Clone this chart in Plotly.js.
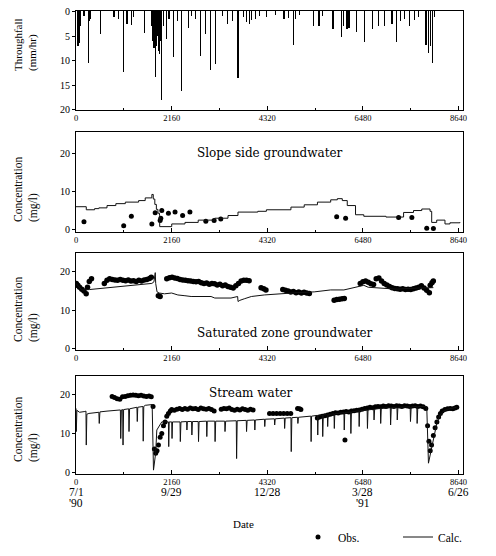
<!DOCTYPE html>
<html>
<head>
<meta charset="utf-8">
<script src="https://cdn.plot.ly/plotly-3.0.1.min.js"></script>
<style>html,body{margin:0;padding:0;background:#fff;}#chart{width:496px;height:556px;}</style>
</head>
<body>
<div id="chart"></div>
<script>
// ---------- Data (hours since 7/1/'90) ----------
var xTickVals = [0, 2160, 4320, 6480, 8640];
var xTickText = ["0", "2160", "4320", "6480", "8640"];
var dateLine1 = ["7/1", "9/29", "12/28", "3/28", "6/26"];
var dateLine2 = ["'90", "", "", "'91", ""];

// Throughfall (mm/hr)
var tfTime = [45,70,100,180,277,290,300,320,554,860,965,1077,1150,1250,1300,1548,1700,1740,1760,1788,1805,1820,1850,1865,1880,1900,1937,1980,2049,2100,2199,2290,2386,2536,2600,2700,2820,2932,3037,3157,3300,3418,3540,3658,3780,3850,3920,3960,4050,4150,4300,4500,4700,4800,4914,4960,5050,5363,5490,5560,5805,6000,6040,6120,6164,6328,6523,6703,6837,6964,7136,7233,7330,7420,7540,7650,7730,7906,7960,8011,8056,8100];
var tfDepth = [7.0,6.5,3.0,1.0,10.6,2.5,2.0,1.5,4.5,1.2,1.5,12.3,2.6,2.8,1.2,4.4,3.0,6.0,7.5,13.3,6.5,7.0,5.0,8.0,8.6,6.0,18.0,3.0,5.6,1.5,9.2,2.0,16.2,3.4,1.0,1.5,9.0,4.5,12.0,10.7,1.0,2.5,2.0,13.5,1.2,2.2,2.5,1.8,1.5,1.0,1.2,0.8,1.5,1.4,6.9,1.5,0.8,3.0,3.0,1.0,3.5,5.3,3.0,3.5,3.4,4.2,6.3,3.6,3.0,3.0,2.6,6.3,2.0,1.5,3.0,1.7,1.2,6.9,8.5,7.0,10.6,1.2];

// Slope side groundwater (mg/l)
var slopeObsT = [180,1077,1250,1713,1788,1900,1915,1937,2087,2237,2408,2573,2932,3119,3269,5887,6089,7286,7585,7921,8072];
var slopeObsC = [2.1,1.0,3.5,1.5,4.4,2.4,3.0,5.0,4.3,4.6,3.7,4.6,2.2,2.4,2.8,3.4,3.0,3.2,3.2,0.4,0.3];
var slopeCalcT = [0,232,420,516,700,900,1114,1414,1563,1713,1745,1780,1815,1850,1885,1890,2162,2461,2760,3134,3433,3658,4106,4300,4854,5154,5453,5752,5902,6014,6126,6313,6500,7000,7398,7622,7809,7996,8033,8146,8333,8445,8669];
var slopeCalcC = [6.0,5.2,5.5,5.7,6.3,6.8,7.2,7.6,8.3,9.2,8.0,6.6,5.3,4.3,3.7,0.8,1.5,1.9,2.5,3.0,3.7,4.6,4.8,5.2,5.9,6.5,7.2,7.8,8.1,7.6,6.3,3.9,3.5,3.3,4.5,5.0,5.4,4.8,1.9,2.5,1.5,1.8,2.0,2.0];

// Saturated zone groundwater (mg/l)
var satObsT = [7,40,80,130,180,230,260,300,350,640,700,760,820,880,940,1000,1060,1120,1180,1240,1300,1360,1420,1480,1540,1600,1660,1700,1860,1900,2050,2110,2170,2230,2290,2350,2410,2470,2530,2590,2650,2710,2770,2830,2890,2950,3010,3070,3130,3190,3250,3310,3370,3430,3490,3550,3610,3670,3730,3790,3850,3910,4180,4240,4290,4670,4730,4790,4850,4910,4970,5030,5090,5150,5210,5270,5830,5890,5950,6010,6060,6420,6480,6540,6600,6660,6720,6780,6840,6900,6960,7020,7080,7140,7200,7260,7320,7380,7440,7500,7560,7620,7680,7740,7800,7860,7920,7980,8000,8040,8070];
var satObsC = [17.0,16.5,16.0,15.5,15.0,14.3,16.0,17.5,18.2,17.0,17.8,18.2,18.0,17.9,17.8,18.0,17.8,17.7,17.9,17.6,17.7,17.5,17.8,17.6,17.9,18.0,18.3,18.6,13.8,13.6,18.2,18.5,18.6,18.4,18.3,18.0,17.9,17.8,17.7,17.6,17.5,17.4,17.5,17.2,17.0,17.1,16.8,17.0,16.9,16.6,16.8,16.4,16.6,16.2,16.0,15.8,16.4,17.0,17.6,17.8,17.8,17.7,15.9,15.6,15.3,15.4,15.2,15.0,14.8,14.9,14.6,14.8,14.5,14.7,14.5,14.4,12.6,12.8,12.9,13.0,13.1,17.0,17.4,17.6,17.3,16.9,16.7,18.2,18.4,17.6,17.0,16.6,16.2,15.9,15.7,15.6,15.5,15.6,15.4,15.5,15.4,15.6,15.8,16.0,16.4,15.8,15.2,14.6,16.5,17.2,17.6];
var satCalcT = [0,60,130,300,600,900,1200,1500,1713,1760,1790,1800,1830,1880,2000,2160,2300,2460,2600,3050,3134,3500,3600,3650,3660,3700,3800,3960,4250,4630,5000,5380,5750,6050,6430,6500,6600,6800,7000,7250,7500,7800,8071];
var satCalcC = [17.0,16.3,15.3,15.4,15.7,16.0,16.3,16.6,17.0,17.4,19.8,17.0,14.8,14.5,14.3,14.5,14.0,13.8,13.6,13.6,13.2,13.2,13.6,13.6,12.3,12.6,13.0,13.6,14.0,14.4,14.6,14.8,15.3,15.3,16.2,16.5,16.0,15.8,15.6,15.5,15.7,15.8,15.9];

// Stream water (mg/l)
var streamObsT = [815,870,930,990,1050,1110,1170,1230,1290,1350,1410,1470,1530,1590,1650,1700,1740,1770,1800,1830,1862,1900,1937,1975,2012,2050,2087,2130,2162,2220,2280,2340,2400,2460,2520,2580,2640,2700,2760,2820,2880,2940,3000,3060,3120,3280,3340,3400,3460,3520,3580,3640,3700,3760,3820,3880,3940,4000,4370,4450,4530,4610,4690,4770,4850,5004,5050,5079,5450,5500,5560,5620,5680,5740,5800,5860,5920,5980,6040,6074,6100,6160,6220,6280,6340,6400,6460,6520,6580,6640,6700,6760,6820,6880,6940,7000,7060,7120,7180,7240,7300,7360,7420,7480,7540,7600,7660,7720,7780,7840,7900,7940,7970,8000,8030,8070,8110,8150,8190,8230,8270,8330,8390,8450,8510,8560,8600];
var streamObsC = [19.6,19.3,19.0,18.9,19.5,19.6,19.8,19.9,20.0,19.9,19.8,19.9,19.7,19.6,19.7,19.5,17.0,6.0,4.9,5.5,7.0,9.0,10.0,12.0,13.0,14.5,15.2,15.8,16.2,16.0,16.3,16.5,16.2,16.5,16.3,16.6,16.4,16.5,16.2,16.6,16.4,16.3,16.5,16.2,15.8,16.3,16.5,16.4,16.6,16.2,16.0,16.3,16.1,16.4,16.2,16.0,16.3,16.1,15.2,15.2,15.2,15.2,15.2,15.2,15.2,16.5,16.4,16.2,14.0,14.3,14.5,14.6,14.8,15.0,15.2,15.4,15.3,15.5,15.6,8.3,15.7,15.6,15.8,15.9,16.0,16.1,16.3,16.5,16.6,16.8,16.7,16.9,17.0,16.9,17.1,17.0,17.2,17.1,17.0,17.2,17.1,17.0,17.2,17.1,17.0,17.1,17.2,17.0,17.1,16.9,16.5,12.0,8.0,5.5,7.0,9.5,11.5,13.0,14.3,15.2,15.8,16.2,16.4,16.5,16.4,16.6,16.8];
var streamCalcT = [0,7,20,80,200,225,232,245,292,400,516,525,540,700,890,1002,1010,1025,1055,1062,1075,1189,1197,1210,1376,1384,1395,1511,1518,1530,1563,1675,1720,1750,1800,1825,1937,2087,2094,2105,2162,2169,2180,2349,2356,2370,2498,2505,2515,2610,2617,2630,2760,2767,2780,2947,2954,2965,3134,3141,3155,3358,3365,3380,3620,3627,3640,3845,3852,3865,4032,4039,4050,4256,4263,4275,4480,4487,4500,4705,4712,4725,4854,4861,4875,5004,5011,5025,5303,5310,5320,5453,5460,5470,5565,5572,5585,5677,5684,5695,5827,5834,5845,6051,6058,6070,6201,6208,6220,6388,6395,6405,6575,6582,6595,6724,6731,6745,6874,6881,6895,7098,7105,7120,7248,7255,7270,7547,7554,7570,7697,7704,7720,7921,7960,8000,8071,8146,8220,8295,8400,8594];
var streamCalcC = [16.5,10.5,16.0,15.5,15.7,15.8,7.0,15.0,15.2,15.4,15.5,12.6,15.6,15.8,16.0,16.1,8.7,16.1,16.2,7.0,16.2,16.4,10.5,16.4,16.8,13.1,16.8,17.0,8.0,17.0,17.3,17.5,17.5,0.5,5.0,10.9,13.0,13.0,6.6,13.0,13.0,8.7,13.0,13.0,7.9,13.0,13.1,10.9,13.1,13.1,9.6,13.1,13.1,7.9,13.1,13.2,9.2,13.2,13.2,7.9,13.2,13.2,10.5,13.2,13.3,3.5,13.3,13.4,10.5,13.4,13.5,10.9,13.5,13.7,11.8,13.7,13.8,12.2,13.8,14.0,11.3,14.0,14.1,5.3,14.1,14.2,12.6,14.2,14.5,7.9,14.5,14.7,9.6,14.7,14.8,9.2,14.8,14.9,11.8,14.9,15.1,11.3,15.1,15.4,10.9,15.4,15.6,10.0,15.6,15.9,11.8,15.9,16.1,11.3,16.1,16.3,13.5,16.3,16.5,12.6,16.5,16.7,12.2,16.7,16.8,13.5,16.8,16.9,13.1,16.9,17.0,12.6,17.0,17.0,2.3,4.5,9.0,12.5,14.8,15.8,16.3,16.8];

// ---------- Build ----------
var FONT = "Liberation Serif, Times New Roman, serif";
var WFONT = "DejaVu Serif, serif";
var W = 496, H = 556;
var xDom = [76 / W, 463 / W];
function pd(top, bottom) { return [1 - bottom / H, 1 - top / H]; }
function py(p) { return 1 - p / H; }

var traces = [
  {type: 'bar', x: tfTime, y: tfDepth, width: 28, marker: {color: '#000', line: {width: 0}}, xaxis: 'x', yaxis: 'y', showlegend: false, hoverinfo: 'skip'},
  {type: 'scatter', mode: 'markers', x: slopeObsT, y: slopeObsC, marker: {color: '#000', size: 5}, xaxis: 'x2', yaxis: 'y2', name: 'Obs.', showlegend: true},
  {type: 'scatter', mode: 'lines', x: slopeCalcT, y: slopeCalcC, line: {color: '#111', width: 1, shape: 'hv'}, xaxis: 'x2', yaxis: 'y2', name: 'Calc.', showlegend: true},
  {type: 'scatter', mode: 'markers', x: satObsT, y: satObsC, marker: {color: '#000', size: 5.5}, xaxis: 'x3', yaxis: 'y3', showlegend: false},
  {type: 'scatter', mode: 'lines', x: satCalcT, y: satCalcC, line: {color: '#111', width: 1}, xaxis: 'x3', yaxis: 'y3', showlegend: false},
  {type: 'scatter', mode: 'markers', x: streamObsT, y: streamObsC, marker: {color: '#000', size: 5}, xaxis: 'x4', yaxis: 'y4', showlegend: false},
  {type: 'scatter', mode: 'lines', x: streamCalcT, y: streamCalcC, line: {color: '#111', width: 1}, xaxis: 'x4', yaxis: 'y4', showlegend: false}
];

function xa(anchor) {
  return {domain: xDom, anchor: anchor, range: [0, 8740], tickvals: xTickVals, ticktext: xTickText,
    ticks: 'inside', ticklen: 4, tickcolor: '#000', showline: true, linecolor: '#000', linewidth: 1, mirror: true,
    showgrid: false, zeroline: false, tickfont: {family: FONT, size: 8.5, color: '#000'},
    minor: {tickvals: [1080, 3240, 5400, 7560], ticks: 'inside', ticklen: 2, tickcolor: '#000'}};
}
function ya(anchor, dom, range, vals) {
  return {domain: dom, anchor: anchor, range: range, tickvals: vals, ticks: 'outside', ticklen: 3, tickcolor: '#000',
    showline: true, linecolor: '#000', linewidth: 1, mirror: true, showgrid: false, zeroline: false,
    tickfont: {family: FONT, size: 10, color: '#000'}};
}

var titleFont = {family: FONT, size: 11.5, color: '#000'};
var annotations = [
  {text: 'Throughfall<br>(mm/hr)', xref: 'paper', yref: 'paper', x: 26 / W, y: py(45), xanchor: 'center', yanchor: 'middle', align: 'left', textangle: -90, showarrow: false, font: {family: FONT, size: 11, color: '#000'}},
  {text: 'Concentration<br>(mg/l)', xref: 'paper', yref: 'paper', x: 26 / W, y: py(190), xanchor: 'center', yanchor: 'middle', align: 'left', textangle: -90, showarrow: false, font: titleFont},
  {text: 'Concentration<br>(mg/l)', xref: 'paper', yref: 'paper', x: 26 / W, y: py(310), xanchor: 'center', yanchor: 'middle', align: 'left', textangle: -90, showarrow: false, font: titleFont},
  {text: 'Concentration<br>(mg/l)', xref: 'paper', yref: 'paper', x: 26 / W, y: py(430), xanchor: 'center', yanchor: 'middle', align: 'left', textangle: -90, showarrow: false, font: titleFont},
  {text: 'Slope side groundwater', xref: 'paper', yref: 'paper', x: 195 / W, y: py(153), xanchor: 'left', yanchor: 'middle', showarrow: false, font: {family: WFONT, size: 12, color: '#000'}},
  {text: 'Saturated zone groundwater', xref: 'paper', yref: 'paper', x: 195 / W, y: py(333), xanchor: 'left', yanchor: 'middle', showarrow: false, font: {family: WFONT, size: 12, color: '#000'}},
  {text: 'Stream water', xref: 'paper', yref: 'paper', x: 207 / W, y: py(393), xanchor: 'left', yanchor: 'middle', showarrow: false, font: {family: WFONT, size: 12, color: '#000'}},
  {text: 'Date', xref: 'paper', yref: 'paper', x: 243 / W, y: py(524), xanchor: 'center', yanchor: 'middle', showarrow: false, font: {family: FONT, size: 11, color: '#000'}}
];
for (var i = 0; i < xTickVals.length; i++) {
  annotations.push({text: dateLine1[i], xref: 'x4', yref: 'paper', x: xTickVals[i], y: py(492), xanchor: 'center', yanchor: 'middle',
    showarrow: false, font: {family: FONT, size: 11.5, color: '#000'}});
  if (dateLine2[i]) {
    annotations.push({text: dateLine2[i], xref: 'x4', yref: 'paper', x: xTickVals[i], y: py(503), xanchor: 'center', yanchor: 'middle',
      showarrow: false, font: {family: FONT, size: 11.5, color: '#000'}});
  }
}

var layout = {
  width: W, height: H, autosize: false,
  margin: {l: 0, r: 0, t: 0, b: 0, autoexpand: false},
  paper_bgcolor: '#fff', plot_bgcolor: '#fff',
  bargap: 0,
  xaxis: xa('y'), xaxis2: xa('y2'), xaxis3: xa('y3'), xaxis4: xa('y4'),
  yaxis: ya('x', pd(11, 110), [20.1, -0.1], [0, 5, 10, 15, 20]),
  yaxis2: ya('x2', pd(132, 232), [-0.6, 25.5], [0, 10, 20]),
  yaxis3: ya('x3', pd(253, 350), [-0.3, 24.9], [0, 10, 20]),
  yaxis4: ya('x4', pd(376, 474), [-0.5, 24.9], [0, 10, 20]),
  annotations: annotations,
  showlegend: true,
  legend: {orientation: 'h', x: 298 / W, y: py(537), xanchor: 'left', yanchor: 'middle', entrywidth: 55,
    font: {family: FONT, size: 11.5, color: '#000'}, bgcolor: 'rgba(0,0,0,0)', itemwidth: 30}
};

Plotly.newPlot('chart', traces, layout, {staticPlot: true, displayModeBar: false});
</script>
</body>
</html>
